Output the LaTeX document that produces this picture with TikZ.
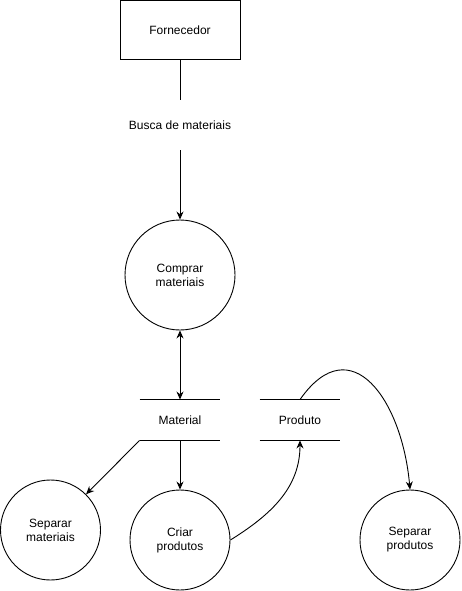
\documentclass[tikz,border=0pt]{standalone}
\usepackage{fontspec}
\setmainfont{Liberation Sans}
\usetikzlibrary{arrows.meta}
\begin{document}
\begin{tikzpicture}[x=1pt, y=-1pt, line width=0.9pt,
  every node/.style={font=\fontsize{12}{14}\selectfont, align=center},
  proc/.style={draw, circle, minimum size=100pt, inner sep=0pt},
  store/.style={minimum width=80pt, minimum height=40pt, inner sep=0pt},
  flow/.style={-{Stealth[length=8pt,width=7pt]}}]
\useasboundingbox (0,0) rectangle (461,591);
% entidade externa
\node[draw, minimum width=120pt, minimum height=59pt] (forn) at (180,30) {Fornecedor};
\node[minimum height=50pt, inner sep=0pt] (busca) at (180,125) {Busca de materiais};
% processos
\node[proc, minimum size=110pt] (comprar) at (180,275) {Comprar\\materiais};
\node[proc] (sepmat) at (50.5,530) {Separar\\materiais};
\node[proc] (criar) at (180,540) {Criar\\produtos};
\node[proc] (sepprod) at (410,540) {Separar\\produtos};
% depositos de dados
\node[store] (material) at (180,420) {Material};
\node[store] (produto) at (300,420) {Produto};
\foreach \s in {material, produto} {
  \draw (\s.north west) -- (\s.north east);
  \draw (\s.south west) -- (\s.south east);
}
% fluxos
\draw (forn.south) -- (busca.north);
\draw[flow] (busca.south) -- (comprar.north);
\draw[{Stealth[length=8pt,width=7pt]}-{Stealth[length=8pt,width=7pt]}] (comprar.south) -- (material.north);
\draw[flow] (material.south west) -- (sepmat);
\draw[flow] (material.south) -- (criar.north);
\draw[flow] (criar.east) to[out=32, in=-90] (produto.south);
\draw[flow] (produto.north) to[out=55, in=95, looseness=1.6] (sepprod.north);
\end{tikzpicture}
\end{document}
